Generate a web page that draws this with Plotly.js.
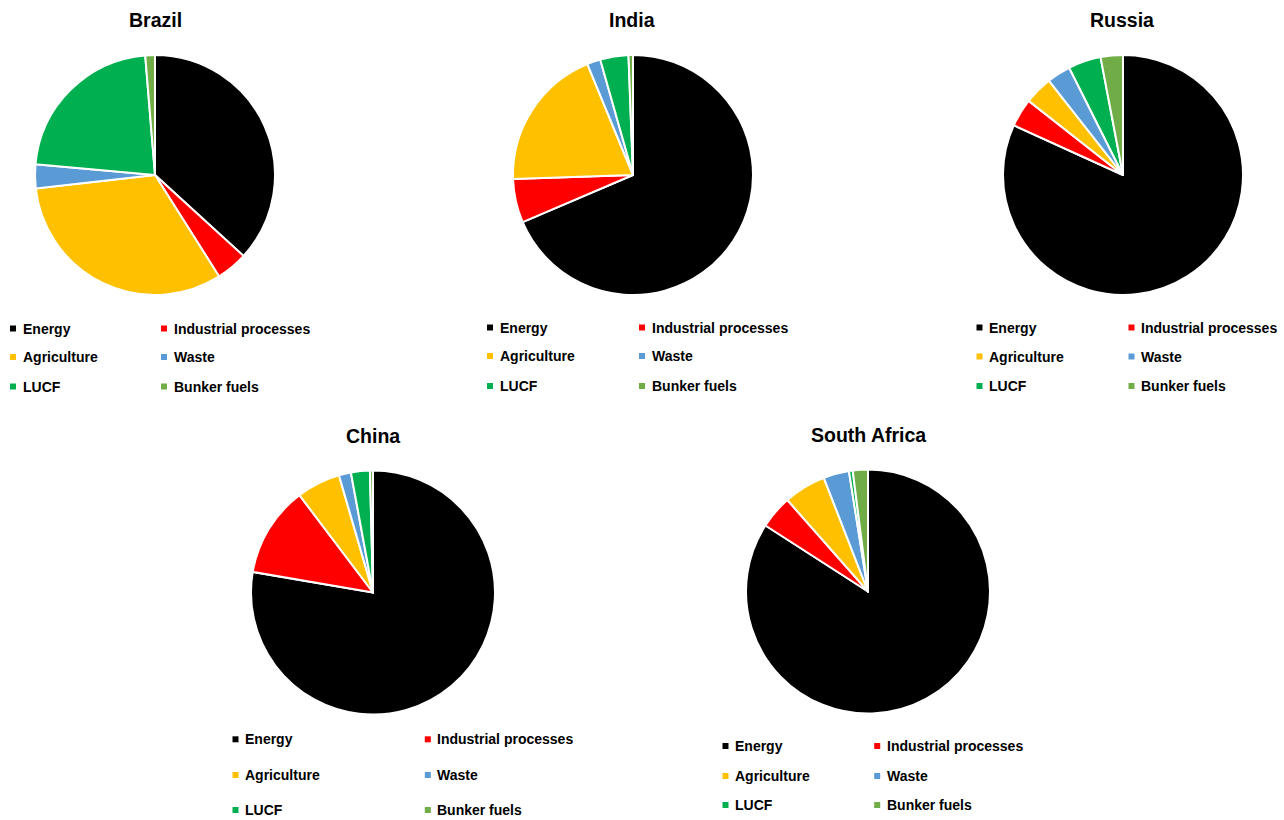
<!DOCTYPE html>
<html><head><meta charset="utf-8">
<script src="https://cdn.plot.ly/plotly-3.0.1.min.js"></script>
<style>html,body{margin:0;padding:0;background:#fff}</style>
</head><body><div id="chart" style="width:1284px;height:820px"></div>
<script>
// ---- data ----
const categories = ["Energy", "Industrial processes", "Agriculture", "Waste", "LUCF", "Bunker fuels"];
const colors = ["#000000", "#FF0000", "#FFC000", "#5B9BD5", "#00B050", "#70AD47"];
const countries = ["Brazil", "India", "Russia", "China", "South Africa"];
const brazil      = [36.8, 4.25, 32.2, 3.2, 22.3, 1.3];
const india       = [68.5, 5.9, 19.3, 1.8, 3.8, 0.6];
const russia      = [81.8, 3.8, 3.8, 3.2, 4.4, 3.0];
const china       = [77.7, 12.0, 5.8, 1.6, 2.5, 0.4];
const southAfrica = [84.1, 4.4, 5.6, 3.4, 0.5, 2.0];
const seriesValues = [brazil, india, russia, china, southAfrica];

// ---- layout (pixel positions of each panel) ----
const W = 1284, H = 820;
const panels = [
  {cx: 155,  cy: 175,   r: 120, tx: 155,  ty: 20,  legX: [22.5, 173.5], legY: [328.5, 357, 386.5]},
  {cx: 633,  cy: 175,   r: 120, tx: 632,  ty: 20,  legX: [499.5, 651.5], legY: [327.5, 356, 386]},
  {cx: 1123, cy: 175,   r: 120, tx: 1122, ty: 20,  legX: [989, 1141],   legY: [327.5, 356.5, 386]},
  {cx: 373,  cy: 592.5, r: 122, tx: 373,  ty: 436, legX: [245, 437.3],  legY: [739.3, 775, 810]},
  {cx: 868,  cy: 591.5, r: 122, tx: 868,  ty: 435, legX: [735, 886.7],  legY: [746, 776, 805]}
];
const px = x => x / W;
const py = y => 1 - y / H;
const FONT = "Liberation Sans, Arial, sans-serif";

const traces = [];
const annotations = [];
const shapes = [];

countries.forEach((name, i) => {
  const p = panels[i];
  traces.push({
    type: "pie",
    name: name,
    labels: categories,
    values: seriesValues[i],
    sort: false,
    direction: "clockwise",
    rotation: 0,
    textinfo: "none",
    textposition: "none",
    hoverinfo: "label+percent",
    showlegend: false,
    marker: {colors: colors, line: {color: "#FFFFFF", width: 2}},
    domain: {x: [px(p.cx - p.r), px(p.cx + p.r)], y: [py(p.cy + p.r), py(p.cy - p.r)]}
  });
  annotations.push({
    text: name, xref: "paper", yref: "paper", x: px(p.tx), y: py(p.ty),
    xanchor: "center", yanchor: "middle", showarrow: false,
    font: {family: FONT, size: 19.5, color: "#000", weight: "bold"}
  });
  categories.forEach((cat, k) => {
    const col = k % 2, row = Math.floor(k / 2);
    const tx = p.legX[col], ty = p.legY[row];
    annotations.push({
      text: cat, xref: "paper", yref: "paper", x: px(tx - 2), y: py(ty),
      xanchor: "left", yanchor: "middle", showarrow: false,
      font: {family: FONT, size: 14, color: "#000", weight: "bold"}
    });
    shapes.push({
      type: "rect", xref: "paper", yref: "paper",
      x0: px(tx - 12.5), x1: px(tx - 6.5), y0: py(ty + 3), y1: py(ty - 3),
      fillcolor: colors[k], line: {width: 0}
    });
  });
});

const layout = {
  width: W, height: H,
  margin: {l: 0, r: 0, t: 0, b: 0},
  paper_bgcolor: "#FFFFFF",
  showlegend: false,
  annotations: annotations,
  shapes: shapes
};
Plotly.newPlot("chart", traces, layout, {displayModeBar: false, staticPlot: false});
</script>
</body></html>
